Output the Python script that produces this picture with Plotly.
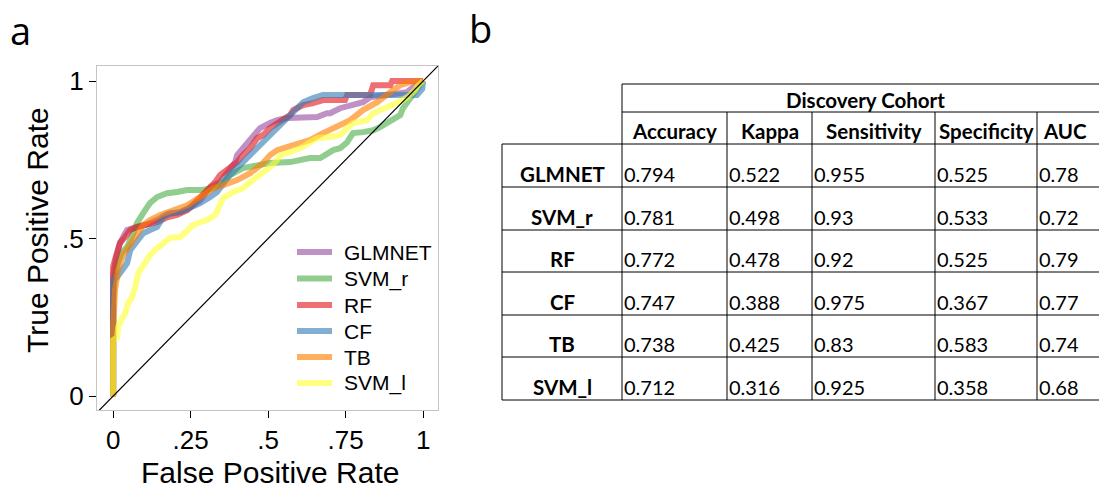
import plotly.graph_objects as go

W, H = 1099, 489

models = ["GLMNET", "SVM_r", "RF", "CF", "TB", "SVM_l"]
colors = ["#984EA3", "#4DAF4A", "#E41A1C", "#377EB8", "#FF7F00", "#FFFF33"]

fpr_glmnet = [0, 0, 0.01, 0.02, 0.035, 0.045, 0.07, 0.11, 0.142, 0.174, 0.216, 0.25, 0.28, 0.313, 0.345, 0.377,
              0.394, 0.400, 0.419, 0.432, 0.452, 0.474, 0.506, 0.529, 0.561, 0.594, 0.626, 0.658, 0.690, 0.700,
              0.732, 0.765, 0.806, 0.829, 0.871, 0.916, 0.948, 0.968, 0.990, 1.0]
tpr_glmnet = [0, 0.38, 0.44, 0.48, 0.51, 0.527, 0.535, 0.545, 0.56, 0.578, 0.584, 0.60, 0.62, 0.663, 0.679, 0.724,
              0.743, 0.765, 0.787, 0.806, 0.829, 0.851, 0.867, 0.876, 0.883, 0.883, 0.883, 0.886, 0.898, 0.898,
              0.914, 0.924, 0.933, 0.949, 0.956, 0.962, 0.965, 0.981, 0.997, 1.0]

fpr_svm_r = [0, 0, 0.006, 0.016, 0.029, 0.045, 0.065, 0.077, 0.097, 0.119, 0.142, 0.174, 0.206, 0.239, 0.281,
             0.323, 0.345, 0.377, 0.419, 0.465, 0.506, 0.571, 0.603, 0.635, 0.668, 0.690, 0.710, 0.732, 0.755,
             0.765, 0.774, 0.806, 0.839, 0.861, 0.884, 0.903, 0.926, 0.935, 0.948, 0.958, 0.968, 0.981, 0.990, 1.0]
tpr_svm_r = [0, 0.305, 0.384, 0.425, 0.457, 0.473, 0.517, 0.549, 0.581, 0.613, 0.632, 0.644, 0.648, 0.654, 0.654,
             0.660, 0.670, 0.702, 0.724, 0.733, 0.740, 0.743, 0.749, 0.756, 0.756, 0.771, 0.781, 0.787, 0.806,
             0.822, 0.835, 0.838, 0.844, 0.854, 0.867, 0.876, 0.892, 0.914, 0.930, 0.940, 0.956, 0.971, 0.987, 1.0]

fpr_rf = [0, 0, 0.005, 0.013, 0.023, 0.039, 0.055, 0.077, 0.110, 0.142, 0.174, 0.206, 0.239, 0.271, 0.303, 0.329,
          0.345, 0.377, 0.400, 0.419, 0.442, 0.465, 0.484, 0.506, 0.539, 0.571, 0.581, 0.613, 0.645, 0.677, 0.748,
          0.755, 0.829, 0.839, 0.894, 0.900, 1.0]
tpr_rf = [0, 0.41, 0.43, 0.463, 0.489, 0.505, 0.527, 0.537, 0.543, 0.552, 0.568, 0.575, 0.590, 0.622, 0.654, 0.679,
          0.702, 0.724, 0.743, 0.765, 0.787, 0.819, 0.829, 0.851, 0.870, 0.892, 0.908, 0.924, 0.930, 0.940, 0.940,
          0.956, 0.956, 0.987, 0.987, 1.0, 1.0]

fpr_cf = [0, 0, 0.013, 0.032, 0.045, 0.055, 0.077, 0.097, 0.119, 0.142, 0.161, 0.184, 0.216, 0.248, 0.281, 0.313,
          0.335, 0.377, 0.400, 0.419, 0.442, 0.465, 0.484, 0.506, 0.529, 0.548, 0.571, 0.594, 0.613, 0.645, 0.677,
          0.980, 0.997, 1.0]
tpr_cf = [0, 0.368, 0.378, 0.40, 0.422, 0.463, 0.495, 0.517, 0.527, 0.537, 0.568, 0.581, 0.584, 0.597, 0.613, 0.632,
          0.648, 0.702, 0.724, 0.743, 0.765, 0.787, 0.806, 0.829, 0.851, 0.870, 0.892, 0.914, 0.933, 0.946, 0.956,
          0.956, 0.975, 1.0]

fpr_tb = [0, 0, 0.006, 0.016, 0.032, 0.055, 0.077, 0.097, 0.119, 0.152, 0.194, 0.239, 0.281, 0.323, 0.355, 0.400,
          0.442, 0.484, 0.506, 0.529, 0.581, 0.635, 0.677, 0.710, 0.765, 0.806, 0.852, 0.894, 0.926, 0.958, 0.990,
          1.0]
tpr_tb = [0, 0.21, 0.337, 0.40, 0.448, 0.483, 0.514, 0.543, 0.559, 0.575, 0.590, 0.606, 0.632, 0.660, 0.670, 0.686,
          0.708, 0.740, 0.765, 0.781, 0.797, 0.813, 0.835, 0.851, 0.876, 0.908, 0.933, 0.965, 0.987, 0.997, 1.0,
          1.0]

fpr_svm_l = [0, 0, 0.013, 0.016, 0.029, 0.039, 0.048, 0.061, 0.071, 0.077, 0.081, 0.094, 0.103, 0.119, 0.142,
             0.161, 0.184, 0.216, 0.239, 0.258, 0.281, 0.303, 0.329, 0.339, 0.355, 0.387, 0.419, 0.442, 0.465,
             0.484, 0.506, 0.529, 0.539, 0.571, 0.603, 0.635, 0.658, 0.690, 0.732, 0.755, 0.774, 0.819, 0.839,
             0.884, 0.916, 0.935, 0.958, 0.974, 0.984, 0.997, 1.0]
tpr_svm_l = [0, 0.178, 0.187, 0.219, 0.248, 0.263, 0.295, 0.314, 0.346, 0.368, 0.390, 0.410, 0.425, 0.448, 0.470,
             0.486, 0.502, 0.505, 0.527, 0.543, 0.552, 0.559, 0.575, 0.600, 0.629, 0.648, 0.660, 0.679, 0.695,
             0.711, 0.727, 0.749, 0.765, 0.775, 0.787, 0.806, 0.819, 0.822, 0.829, 0.851, 0.867, 0.876, 0.898,
             0.917, 0.930, 0.940, 0.956, 0.971, 0.987, 1.0, 1.0]

fprs = [fpr_glmnet, fpr_svm_r, fpr_rf, fpr_cf, fpr_tb, fpr_svm_l]
tprs = [tpr_glmnet, tpr_svm_r, tpr_rf, tpr_cf, tpr_tb, tpr_svm_l]

x_tickvals = [0, 0.25, 0.5, 0.75, 1]
x_ticktext = ["0", ".25", ".5", ".75", "1"]
y_tickvals = [0, 0.5, 1]
y_ticktext = ["0", ".5", "1"]

table_group = "Discovery Cohort"
metric_names = ["Accuracy", "Kappa", "Sensitivity", "Specificity", "AUC"]
accuracy = [0.794, 0.781, 0.772, 0.747, 0.738, 0.712]
kappa = [0.522, 0.498, 0.478, 0.388, 0.425, 0.316]
sensitivity = [0.955, 0.93, 0.92, 0.975, 0.83, 0.925]
specificity = [0.525, 0.533, 0.525, 0.367, 0.583, 0.358]
auc = [0.78, 0.72, 0.79, 0.77, 0.74, 0.68]
metric_values = [accuracy, kappa, sensitivity, specificity, auc]

OPAC = 0.62

fig = go.Figure()
for name, col, fx, ty in zip(models, colors, fprs, tprs):
    fig.add_trace(go.Scatter(x=fx, y=ty, mode="lines", name=name, showlegend=False,
                             line=dict(color=col, width=6), opacity=OPAC))
fig.add_trace(go.Scatter(x=[-0.2, 1.2], y=[-0.2, 1.2], mode="lines", showlegend=False,
                         line=dict(color="black", width=1.2), hoverinfo="skip"))


def px(x):
    return x / W


def py(y):
    return 1 - y / H


PLOT_FONT = "Liberation Sans, Arial, sans-serif"
TAB_FONT = "Lato, Open Sans, sans-serif"

fig.update_layout(
    width=W, height=H, margin=dict(l=0, r=0, t=0, b=0),
    paper_bgcolor="white", plot_bgcolor="white",
    font=dict(family=PLOT_FONT, color="black"),
    xaxis=dict(domain=[px(97), px(438)], range=[-0.052, 1.048], showgrid=False, zeroline=False,
               showline=True, linecolor="#c4c4c4", linewidth=1, mirror=True,
               ticks="outside", ticklen=7, tickcolor="black", tickwidth=1,
               tickvals=x_tickvals, ticktext=x_ticktext, tickfont=dict(size=26, family=PLOT_FONT)),
    yaxis=dict(domain=[py(410), py(66)], range=[-0.044, 1.048], showgrid=False, zeroline=False,
               showline=True, linecolor="#c4c4c4", linewidth=1, mirror=True,
               ticks="outside", ticklen=7, tickcolor="black", tickwidth=1,
               tickvals=y_tickvals, ticktext=y_ticktext, tickfont=dict(size=26, family=PLOT_FONT)),
    showlegend=False,
)

ann = []
shapes = []

# legend drawn from the model names / colours
leg_y = [252, 278.5, 305, 331, 357, 383]
for name, col, ly in zip(models, colors, leg_y):
    shapes.append(dict(type="line", xref="paper", yref="paper", x0=px(297), x1=px(332), y0=py(ly), y1=py(ly),
                       line=dict(color=col, width=6), opacity=OPAC))
    ann.append(dict(text=name, x=px(342), y=py(ly), xref="paper", yref="paper", showarrow=False,
                    font=dict(size=21, family=PLOT_FONT), xanchor="left", yanchor="middle"))

ann.append(dict(text="False Positive Rate", x=px(270), y=py(472), xref="paper", yref="paper",
                showarrow=False, font=dict(size=30, family=PLOT_FONT), xanchor="center", yanchor="middle"))
ann.append(dict(text="True Positive Rate", x=px(37), y=py(230), xref="paper", yref="paper", textangle=-90,
                showarrow=False, font=dict(size=30, family=PLOT_FONT), xanchor="center", yanchor="middle"))
ann.append(dict(text="a", x=px(8), y=py(30), xref="paper", yref="paper", showarrow=False,
                font=dict(size=38, family="Open Sans, sans-serif"), xanchor="left", yanchor="middle"))
ann.append(dict(text="b", x=px(467), y=py(28), xref="paper", yref="paper", showarrow=False,
                font=dict(size=38, family="Open Sans, sans-serif"), xanchor="left", yanchor="middle"))

# table geometry (pixels)
tab_left = 502
col_edges = [622, 727, 812, 935, 1037, 1099]
head_top, head_mid, head_bot = 84, 112, 144
row_bottoms = [187, 230, 272, 315, 357, 400]
right_end = 1099


def hline(y, x0, x1):
    shapes.append(dict(type="line", xref="paper", yref="paper", x0=px(x0), x1=px(x1), y0=py(y), y1=py(y),
                       line=dict(color="black", width=1)))


def vline(x, y0, y1):
    shapes.append(dict(type="line", xref="paper", yref="paper", x0=px(x), x1=px(x), y0=py(y0), y1=py(y1),
                       line=dict(color="black", width=1)))


hline(head_top, col_edges[0], right_end)
hline(head_mid, col_edges[0], right_end)
hline(head_bot, tab_left, right_end)
for rb in row_bottoms:
    hline(rb, tab_left, right_end)
vline(tab_left, head_bot, row_bottoms[-1])
vline(col_edges[0], head_top, row_bottoms[-1])
for cx in col_edges[1:5]:
    vline(cx, head_mid, row_bottoms[-1])

BOLD = 20.5
ann.append(dict(text="<b>%s</b>" % table_group, x=px(865), y=py(100), xref="paper", yref="paper",
                showarrow=False, font=dict(size=BOLD, family=TAB_FONT), xanchor="center", yanchor="middle"))
head_centers = [674.5, 769.5, 873.5, 986, 1065]
for name, cx in zip(metric_names, head_centers):
    ann.append(dict(text="<b>%s</b>" % name, x=px(cx), y=py(131), xref="paper", yref="paper",
                    showarrow=False, font=dict(size=BOLD, family=TAB_FONT), xanchor="center", yanchor="middle"))
for i, m in enumerate(models):
    yc = row_bottoms[i] - 13
    ann.append(dict(text="<b>%s</b>" % m, x=px(562), y=py(yc), xref="paper", yref="paper",
                    showarrow=False, font=dict(size=BOLD, family=TAB_FONT), xanchor="center", yanchor="middle"))
    for j, vals in enumerate(metric_values):
        ann.append(dict(text=str(vals[i]), x=px(col_edges[j]), y=py(yc), xref="paper", yref="paper",
                        showarrow=False, font=dict(size=20, family=TAB_FONT), xanchor="left", yanchor="middle"))

fig.update_layout(annotations=ann, shapes=shapes)
fig.write_html("out.html", config={"displayModeBar": False},
               post_script="document.body.style.margin='0';document.body.style.overflow='hidden';")
